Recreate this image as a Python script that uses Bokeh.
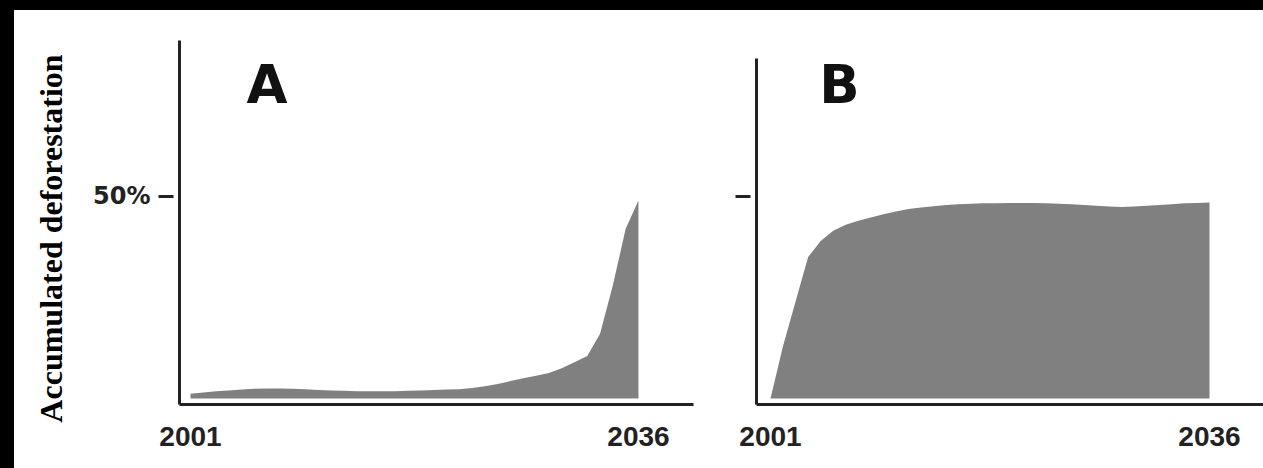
from bokeh.plotting import figure
from bokeh.layouts import row
from bokeh.models import FixedTicker, Label, Range1d, GlobalInlineStyleSheet
from bokeh.embed import file_html
from bokeh.resources import INLINE

# ---------------- data ----------------
years = list(range(2001, 2037))
deforestation_a = [1.2, 1.5, 1.8, 2.0, 2.2, 2.4, 2.5, 2.5, 2.4, 2.3,
                   2.1, 2.0, 1.9, 1.8, 1.8, 1.8, 1.8, 1.9, 2.0, 2.1,
                   2.2, 2.3, 2.6, 3.0, 3.6, 4.3, 5.0, 5.6, 6.3, 7.5,
                   9.0, 10.5, 16.0, 28.0, 42.0, 49.0]
deforestation_b = [0.0, 13.0, 24.0, 35.0, 39.0, 41.5, 43.0, 44.0, 44.8, 45.6,
                   46.3, 46.9, 47.3, 47.6, 47.9, 48.1, 48.2, 48.3, 48.3, 48.4,
                   48.4, 48.4, 48.3, 48.2, 48.1, 47.9, 47.7, 47.5, 47.4, 47.5,
                   47.7, 47.9, 48.1, 48.3, 48.4, 48.5]
x_tick_years = [2001, 2036]
y_tick_values = [50]
y_tick_labels_a = {50: "50%"}
y_tick_labels_b = {50: ""}
panel_labels = ["A", "B"]
y_title = "Accumulated deforestation"

AREA = "#808080"
INK = "#222222"


def style_axes(p, ylabels, x_loc, y_loc, x_bounds, y_bounds):
    xa = p.xaxis[0]
    xa.fixed_location = y_loc
    xa.bounds = x_bounds
    xa.ticker = FixedTicker(ticks=x_tick_years)
    xa.major_tick_in = 0
    xa.major_tick_out = 0
    xa.minor_tick_in = 0
    xa.minor_tick_out = 0
    xa.axis_line_width = 3
    xa.axis_line_color = INK
    xa.major_label_standoff = 23
    xa.major_label_text_font = "Liberation Sans"
    xa.major_label_text_font_style = "bold"
    xa.major_label_text_font_size = "28px"
    xa.major_label_text_color = INK

    ya = p.yaxis[0]
    ya.fixed_location = x_loc
    ya.bounds = y_bounds
    ya.ticker = FixedTicker(ticks=y_tick_values)
    ya.major_label_overrides = ylabels
    ya.major_tick_in = -6
    ya.major_tick_out = 21
    ya.major_tick_line_width = 3
    ya.major_tick_line_color = INK
    ya.minor_tick_in = 0
    ya.minor_tick_out = 0
    ya.axis_line_width = 3
    ya.axis_line_color = INK
    ya.major_label_standoff = 8
    ya.major_label_text_font = "DejaVu Sans"
    ya.major_label_text_font_style = "bold"
    ya.major_label_text_font_size = "24px"
    ya.major_label_text_color = INK

    p.xgrid.visible = False
    p.ygrid.visible = False
    p.outline_line_color = None
    p.background_fill_color = "white"
    p.border_fill_color = "white"


common = dict(height=458, output_backend="svg", toolbar_location=None,
              min_border=0, min_border_left=0, min_border_right=0,
              min_border_top=0, min_border_bottom=0)

# ---------------- panel A ----------------
pA = figure(width=706, x_range=Range1d(1987.25, 2042.41),
            y_range=Range1d(-17.33, 96.04), **common)
pA.varea(x=years, y1=0, y2=deforestation_a, fill_color=AREA, fill_alpha=1.0)
style_axes(pA, y_tick_labels_a, 2000.14, -1.485, (2000.14, 2040.30), (-1.485, 88.61))
pA.add_layout(Label(x=2006.98, y=77.6, text=panel_labels[0],
                    text_font="DejaVu Sans", text_font_style="bold",
                    text_font_size="53px", text_color="#111111",
                    text_align="center", text_baseline="alphabetic"))
pA.add_layout(Label(x=1990.14, y=39.6, text=y_title, angle=90, angle_units="deg",
                    text_font="Liberation Serif", text_font_style="bold",
                    text_font_size="32px", text_color="#000000",
                    text_align="center", text_baseline="middle"))

# ---------------- panel B ----------------
pB = figure(width=543, x_range=Range1d(1997.014, 2040.305),
            y_range=Range1d(-17.33, 96.04), **common)
pB.varea(x=years, y1=0, y2=deforestation_b, fill_color=AREA, fill_alpha=1.0)
style_axes(pB, y_tick_labels_b, 1999.884, -1.485, (1999.884, 2040.305), (-1.485, 84.16))
pB.add_layout(Label(x=2006.5, y=77.6, text=panel_labels[1],
                    text_font="DejaVu Sans", text_font_style="bold",
                    text_font_size="53px", text_color="#111111",
                    text_align="center", text_baseline="alphabetic"))

page_css = GlobalInlineStyleSheet(
    css="html, body { margin: 0 !important; padding: 0 !important; "
        "background: #000000 !important; overflow: hidden; }")

layout = row(pA, pB, margin=(10, 0, 0, 14), spacing=0, stylesheets=[page_css],
             styles={"background-color": "#ffffff"})

open("out.html", "w").write(file_html(layout, INLINE))
